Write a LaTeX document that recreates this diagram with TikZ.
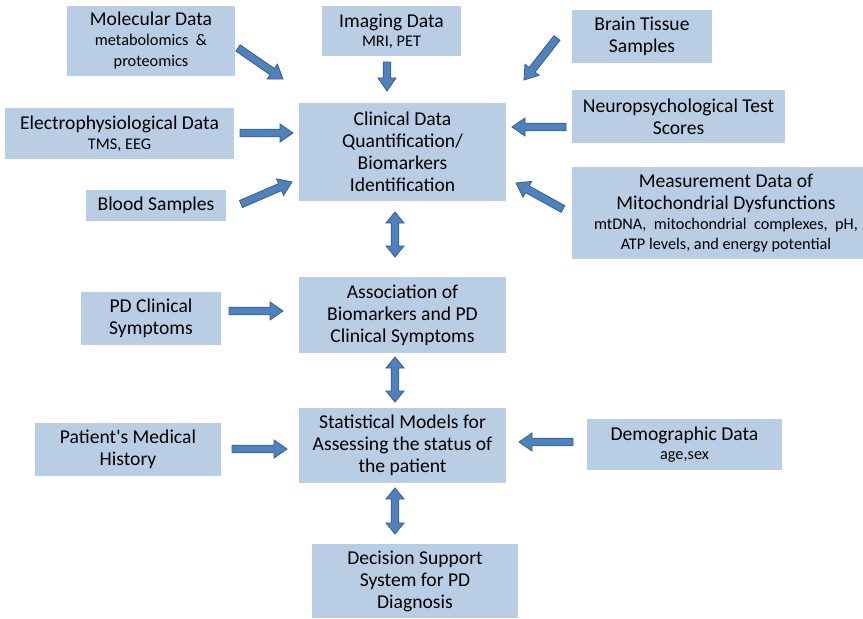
\documentclass[tikz,border=0pt]{standalone}
\usepackage{fontspec}
\setmainfont{Carlito}
\newfontfamily\plainf{Carlito}
\usetikzlibrary{calc}
\definecolor{boxfill}{RGB}{185,205,229}
\definecolor{arrfill}{RGB}{79,129,189}
\definecolor{arrdark}{RGB}{56,93,138}
\newcommand\bigf{\fontsize{19.6}{22}\selectfont}
\newcommand\smf{\fontsize{16.3}{19.5}\selectfont}
\newcommand\sw{3.8pt}
\newcommand\hw{9pt}
\newcommand\hl{13pt}
\tikzset{
  box/.style={fill=boxfill, inner sep=0pt, align=center, font=\bigf},
  blockarrow/.style={fill=arrfill, draw=arrdark, line width=0.8pt, line join=miter}
}
\newcommand\blockarr[2]{%
  \coordinate (baN) at ($(#2)!\hl!(#1)$);
  \draw[blockarrow] ($(#1)!\sw!90:(#2)$) -- ($(baN)!\sw!90:(#2)$) -- ($(baN)!\hw!90:(#2)$) -- (#2)
    -- ($(baN)!\hw!-90:(#2)$) -- ($(baN)!\sw!-90:(#2)$) -- ($(#1)!\sw!-90:(#2)$) -- cycle;}
\newcommand\dblarr[2]{%
  \coordinate (daN) at ($(#1)!11pt!(#2)$);
  \coordinate (daM) at ($(#2)!11pt!(#1)$);
  \draw[blockarrow] (#1) -- ($(daN)!\hw!90:(#2)$) -- ($(daN)!\sw!90:(#2)$) -- ($(daM)!\sw!90:(#2)$)
    -- ($(daM)!\hw!90:(#2)$) -- (#2) -- ($(daM)!\hw!-90:(#2)$) -- ($(daM)!\sw!-90:(#2)$)
    -- ($(daN)!\sw!-90:(#2)$) -- ($(daN)!\hw!-90:(#2)$) -- cycle;}
\begin{document}
\begin{tikzpicture}[x=1pt,y=-1pt]
\useasboundingbox (0,0) rectangle (863,619);
% boxes
\node[box, minimum width=168pt, minimum height=70pt] (mol) at (151,41)
  {Molecular Data\\[-2pt]{\smf metabolomics \ \&}\\[-1pt]{\smf proteomics}};
\node[box, minimum width=139pt, minimum height=50pt] (img) at (391.5,31)
  {Imaging Data\\[-3pt]{\smf MRI, PET}};
\node[box, minimum width=140pt, minimum height=53pt] (brain) at (642,36.5)
  {Brain Tissue\\Samples};
\node[box, minimum width=229pt, minimum height=51pt] (elec) at (119.5,133.5)
  {Electrophysiological Data\\[-2pt]{\smf TMS, EEG}};
\node[box, minimum width=207pt, minimum height=98pt] (clin) at (402.5,152)
  {Clinical Data\\Quantification/\\Biomarkers\\Identification};
\node[box, minimum width=213pt, minimum height=53pt] (neuro) at (678.5,116.5)
  {Neuropsychological Test\\Scores};
\node[box, minimum width=140pt, minimum height=31pt] (blood) at (156,205.5)
  {Blood Samples};
\node[box, minimum width=308pt, minimum height=92pt] (meas) at (726,213)
  {Measurement Data of\\Mitochondrial Dysfunctions\\[-2pt]{\smf mtDNA, \ mitochondrial \ complexes, \ pH,}\\[-2pt]{\smf ATP levels, and energy potential}};
\node[box, minimum width=140pt, minimum height=53pt] (pd) at (151,318.5)
  {PD Clinical\\Symptoms};
\node[box, minimum width=207pt, minimum height=76pt] (assoc) at (402.5,315)
  {Association of\\Biomarkers and PD\\Clinical Symptoms};
\node[box, minimum width=186pt, minimum height=53pt] (pat) at (128,449.5)
  {Patient{\plainf '}s Medical\\History};
\node[box, minimum width=207pt, minimum height=75pt] (stat) at (402.5,445.5)
  {Statistical Models for\\Assessing the status of\\the patient};
\node[box, minimum width=195pt, minimum height=51pt] (demo) at (684.5,444.5)
  {Demographic Data\\[-3pt]{\smf age,sex}};
\node[box, minimum width=206pt, minimum height=74pt] (dec) at (415,581)
  {Decision Support\\System for PD\\Diagnosis};
% arrow end points
\coordinate (molT) at (238,48);   \coordinate (molH) at (283,79);
\coordinate (imgT) at (387,62);   \coordinate (imgH) at (387,91);
\coordinate (brainT) at (557,38); \coordinate (brainH) at (524,80);
\coordinate (elecT) at (240,133); \coordinate (elecH) at (293,133);
\coordinate (neuroT) at (566,127);\coordinate (neuroH) at (512,127);
\coordinate (bloodT) at (241,204);\coordinate (bloodH) at (292,182);
\coordinate (measT) at (563,209); \coordinate (measH) at (516,183);
\coordinate (pdT) at (229,311);   \coordinate (pdH) at (283,311);
\coordinate (patT) at (232,449);  \coordinate (patH) at (287,449);
\coordinate (demoT) at (573,442); \coordinate (demoH) at (519,442);
\coordinate (c1) at (395,212); \coordinate (a1) at (395,257);
\coordinate (a2) at (395,357); \coordinate (s2) at (395,402);
\coordinate (s3) at (395,488); \coordinate (d3) at (395,534);
\blockarr{molT}{molH}
\blockarr{imgT}{imgH}
\blockarr{brainT}{brainH}
\blockarr{elecT}{elecH}
\blockarr{neuroT}{neuroH}
\blockarr{bloodT}{bloodH}
\blockarr{measT}{measH}
\blockarr{pdT}{pdH}
\blockarr{patT}{patH}
\blockarr{demoT}{demoH}
\dblarr{c1}{a1}
\dblarr{a2}{s2}
\dblarr{s3}{d3}
\end{tikzpicture}
\end{document}
